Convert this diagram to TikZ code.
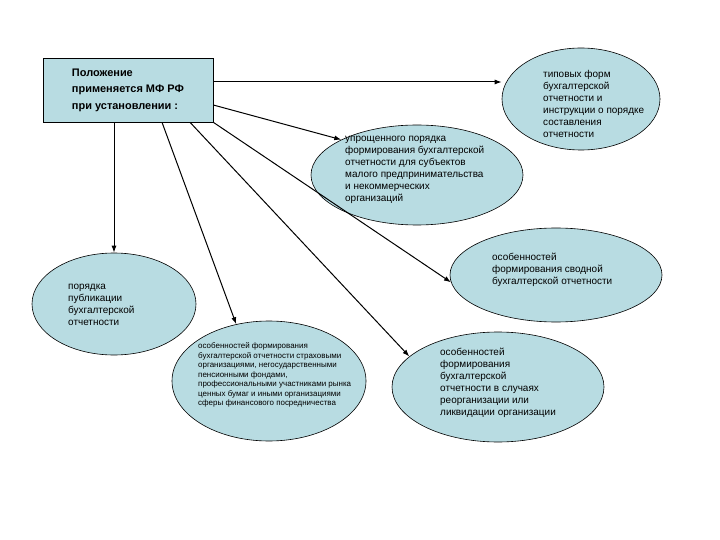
\documentclass[tikz,border=0pt]{standalone}
\usepackage{fontspec}
\setmainfont{Liberation Sans}
\usetikzlibrary{shapes.geometric, arrows.meta}
\definecolor{ovalfill}{RGB}{184,220,226}

\begin{document}
\begin{tikzpicture}[%
        x = 1bp,
        y = -1bp,
        oval/.style = {draw, ellipse, fill = ovalfill, line width = 0.6bp, inner sep = 0},
        txt/.style = {anchor = north west, align = left, inner sep = 0,
            font = \fontsize{10}{12}\selectfont},
        arr/.style = {-{Latex[length = 7bp, width = 5bp]}, line width = 1bp}
    ]
        \useasboundingbox (0, 0) rectangle (720, 540);

        % Box with the heading.
        \node[draw, fill = ovalfill, line width = 0.6bp, minimum width = 170bp,
            minimum height = 64bp, align = left,
            font = \bfseries\fontsize{11}{16.5}\selectfont] (Box) at (128, 90)
            {Положение\\применяется МФ РФ\\при установлении :};

        % Ellipses for the items.
        \node[oval, minimum width = 158bp, minimum height = 102bp] (Forms) at (581, 99) {};
        \node[oval, minimum width = 212bp, minimum height = 100bp] (Mid) at (417, 175) {};
        \node[oval, minimum width = 212bp, minimum height = 94bp] (Svod) at (556, 275) {};
        \node[oval, minimum width = 164bp, minimum height = 102bp] (Left) at (114, 304) {};
        \node[oval, minimum width = 194bp, minimum height = 120bp] (Ins) at (269, 381) {};
        \node[oval, minimum width = 212bp, minimum height = 110bp] (Reorg) at (498, 387) {};

        % Texts inside the ellipses.
        \node[txt] (Forms_Text) at (543, 69) {\strut типовых форм\\бухгалтерской\\отчетности и\\инструкции о порядке\\составления\\отчетности};
        \node[txt] (Mid_Text) at (345, 133) {\strut упрощенного порядка\\формирования бухгалтерской\\отчетности для субъектов\\малого предпринимательства\\и некоммерческих\\организаций};
        \node[txt] (Svod_Text) at (492, 252) {\strut особенностей\\формирования сводной\\бухгалтерской отчетности};
        \node[txt] (Left_Text) at (68, 281) {\strut порядка\\публикации\\бухгалтерской\\отчетности};
        \node[txt, font = \fontsize{8}{9.5}\selectfont] (Ins_Text) at (198, 342) {\strut особенностей формирования\\бухгалтерской отчетности страховыми\\организациями, негосударственными\\пенсионными фондами,\\профессиональными участниками рынка\\ценных бумаг и иными организациями\\сферы финансового посредничества};
        \node[txt] (Reorg_Text) at (440, 347) {\strut особенностей\\формирования\\бухгалтерской\\отчетности в случаях\\реорганизации или\\ликвидации организации};

        % Arrows from the box.
        \draw[arr] (Box.east |- 0, 82) -- (Forms.west |- 0, 82);
        \draw[arr] (Box.east |- 0, 105) -- (Mid.155);
        \draw[arr] (Box.south east) -- (Svod.184);
        \draw[arr] (Left.north |- Box.south) -- (Left.north);
        \draw[arr] ([xshift = 34bp]Box.south) -- (Ins.120);
        \draw[arr] ([xshift = 62bp]Box.south) -- (Reorg.161);
    \end{tikzpicture}
\end{document}
